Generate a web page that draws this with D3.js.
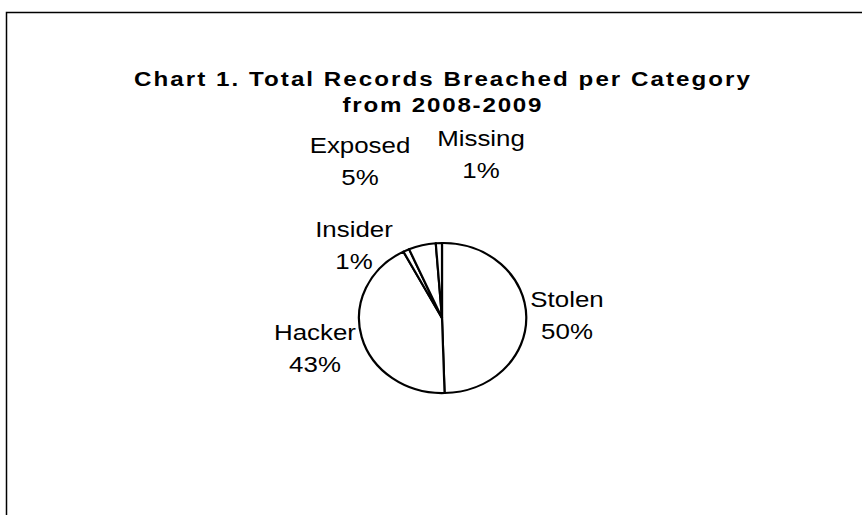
<!DOCTYPE html>
<html>
<head>
<meta charset="utf-8">
<script src="https://cdn.jsdelivr.net/npm/d3@7/dist/d3.min.js"></script>
<style>
  html, body { margin: 0; padding: 0; background: #fff; }
  svg { display: block; }
  text { font-family: "Liberation Sans", Arial, sans-serif; fill: #000; }
</style>
</head>
<body>
<svg id="chart" width="862" height="515"></svg>
<script>
// ---- data ----
const categories = ["Stolen", "Hacker", "Insider", "Exposed", "Missing"];
const values = [49.5, 42.8, 1.2, 5.3, 1.2];
const percentLabels = ["50%", "43%", "1%", "5%", "1%"];
const titleLines = ["Chart 1. Total Records Breached per Category", "from 2008-2009"];

// ---- layout ----
const svg = d3.select("#chart");

// outer chart-area border (extends past right/bottom edge)
svg.append("rect")
  .attr("x", 6.5).attr("y", 12.5)
  .attr("width", 900).attr("height", 600)
  .attr("fill", "#fff")
  .attr("stroke", "#000")
  .attr("stroke-width", 1.5);

// title
const titleCenter = 442;
const titleStretch = 1.15;
const titleSpecs = [{ y: 86, len: 616 }, { y: 112, len: 199 }];
svg.selectAll("text.title")
  .data(titleLines)
  .join("text")
  .attr("class", "title")
  .attr("transform", (d, i) => `translate(${titleCenter},${titleSpecs[i].y}) scale(${titleStretch},1)`)
  .attr("text-anchor", "middle")
  .attr("font-size", 21)
  .attr("font-weight", "bold")
  .attr("textLength", (d, i) => titleSpecs[i].len / titleStretch)
  .attr("lengthAdjust", "spacing")
  .text(d => d);

// pie (elliptical, as in the original)
const cx = 442, cy = 318, rx = 83, ry = 75;
const pie = d3.pie().sort(null).value(d => d.value).startAngle(0).endAngle(2 * Math.PI);
const data = categories.map((c, i) => ({ name: c, value: values[i], pct: percentLabels[i] }));
const arcs = pie(data);
const arc = d3.arc().innerRadius(0).outerRadius(1);

const pg = svg.append("g")
  .attr("transform", `translate(${cx},${cy}) scale(${rx},${ry})`);
pg.selectAll("path")
  .data(arcs)
  .join("path")
  .attr("d", arc)
  .attr("fill", "#fff")
  .attr("stroke", "#000")
  .attr("stroke-width", 2.2)
  .attr("stroke-linejoin", "round")
  .attr("vector-effect", "non-scaling-stroke");

// labels (manually placed in the original chart; offsets relative to pie centre)
const labelOffsets = {
  Stolen:  { dx: 125, dy: -11 },
  Hacker:  { dx: -127, dy: 22 },
  Insider: { dx: -88, dy: -81 },
  Exposed: { dx: -82, dy: -165 },
  Missing: { dx: 39, dy: -172 }
};
const lineGap = 32;
const labels = svg.append("g").selectAll("g.lbl")
  .data(arcs)
  .join("g")
  .attr("class", "lbl")
  .attr("transform", d => {
    const o = labelOffsets[d.data.name];
    return `translate(${cx + o.dx},${cy + o.dy}) scale(1.15,1)`;
  });
labels.append("text")
  .attr("text-anchor", "middle")
  .attr("font-size", 22.5)
  .attr("y", 0)
  .text(d => d.data.name);
labels.append("text")
  .attr("text-anchor", "middle")
  .attr("font-size", 22.5)
  .attr("y", lineGap)
  .text(d => d.data.pct);
</script>
</body>
</html>
